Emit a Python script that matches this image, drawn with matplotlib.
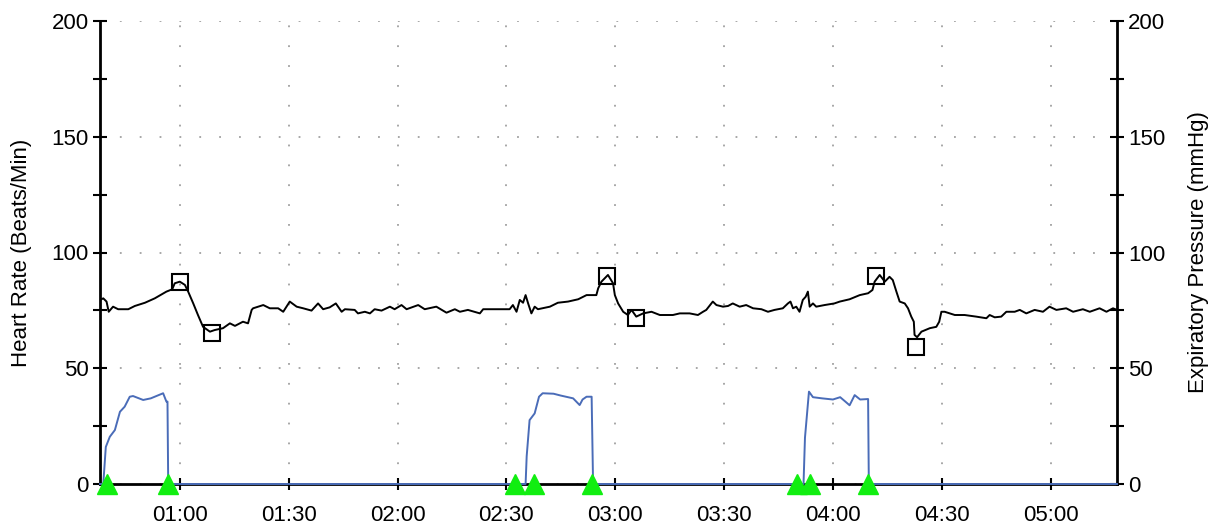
import matplotlib
matplotlib.use("Agg")
import matplotlib.pyplot as plt
from matplotlib.ticker import FixedLocator, FuncFormatter

plt.rcParams['font.family'] = ['Liberation Sans', 'DejaVu Sans']

# heart rate trace: (minutes since 00:00, beats/min)
hr_points = [
    (38.0, 79.5), (38.9, 80.2), (39.8, 78.8), (40.4, 74.4), (41.6, 76.6), (43.0, 75.5),
    (45.8, 75.5), (47.6, 76.9), (50.4, 78.3), (53.1, 80.2), (56.3, 83.1), (57.9, 84.1),
    (58.6, 86.7), (60.0, 87.4), (61.4, 86.0), (62.3, 83.1), (63.7, 78.0), (65.0, 73.0),
    (66.4, 67.9), (68.3, 65.8), (69.6, 66.5), (71.9, 67.3), (73.8, 69.4), (75.2, 68.3),
    (77.4, 70.1), (78.8, 69.4), (79.8, 75.2), (80.2, 75.9), (83.0, 77.3), (84.8, 75.9),
    (87.1, 75.9), (88.5, 74.4), (90.3, 78.8), (92.2, 76.6), (94.0, 75.9), (96.3, 74.9),
    (98.1, 78.0), (99.5, 75.5), (101.3, 76.3), (103.0, 78.0), (104.6, 74.4), (105.5, 75.5),
    (108.2, 75.2), (109.1, 73.7), (111.0, 74.4), (112.4, 73.7), (113.7, 75.5), (115.6, 74.9),
    (117.9, 76.6), (119.2, 75.5), (121.1, 77.3), (122.5, 75.5), (125.7, 77.3), (127.5, 75.5),
    (130.7, 76.6), (133.5, 74.0), (135.8, 75.5), (137.2, 74.4), (139.4, 75.2), (142.7, 73.7),
    (143.6, 75.5), (150.9, 75.5), (151.8, 77.3), (152.8, 74.4), (153.7, 79.5), (154.6, 78.3),
    (155.3, 81.6), (156.0, 78.0), (156.9, 73.7), (157.8, 76.6), (158.7, 75.5), (162.0, 76.6),
    (164.2, 78.3), (167.0, 78.8), (169.8, 79.8), (172.1, 81.6), (174.8, 81.6), (175.3, 84.5),
    (176.2, 87.4), (178.0, 90.3), (179.4, 86.7), (179.9, 81.6), (180.8, 78.0), (182.2, 74.4),
    (183.5, 73.0), (184.5, 75.2), (185.8, 72.3), (187.7, 73.7), (190.0, 74.4), (192.3, 73.0),
    (195.9, 73.0), (197.8, 73.7), (200.5, 73.7), (202.8, 73.0), (204.2, 74.4), (205.1, 75.2),
    (206.9, 78.8), (207.9, 77.3), (209.7, 76.6), (211.1, 76.9), (212.4, 78.0), (214.3, 76.6),
    (216.1, 77.3), (218.0, 75.9), (220.3, 75.5), (222.1, 74.4), (223.9, 75.2), (226.2, 75.9),
    (227.6, 78.0), (228.3, 78.8), (229.0, 75.9), (229.9, 76.6), (230.8, 74.4), (231.7, 79.5),
    (232.5, 80.9), (233.1, 83.1), (233.6, 76.6), (234.5, 78.0), (235.4, 76.6), (237.7, 77.3),
    (240.4, 78.0), (241.9, 78.8), (244.6, 79.8), (247.4, 81.6), (249.7, 82.4), (250.9, 83.8),
    (251.5, 87.4), (252.9, 90.3), (254.3, 87.4), (255.6, 89.5), (256.5, 88.1), (257.5, 83.1),
    (258.4, 78.8), (259.8, 78.0), (260.7, 75.9), (261.6, 72.3), (262.3, 70.1), (262.5, 64.4),
    (263.2, 63.4), (264.4, 65.8), (266.7, 67.3), (268.5, 67.9), (269.3, 70.1), (269.9, 74.4),
    (270.8, 74.4), (273.6, 73.0), (276.3, 73.0), (279.5, 72.3), (282.3, 71.6), (283.2, 73.0),
    (284.6, 72.0), (286.4, 72.3), (287.8, 74.4), (290.1, 74.4), (291.5, 75.2), (293.3, 73.7),
    (295.6, 75.2), (297.9, 74.4), (299.7, 76.6), (301.6, 75.2), (304.3, 75.9), (306.2, 74.4),
    (308.9, 75.5), (310.8, 74.4), (313.5, 75.9), (315.4, 74.4), (317.2, 75.9), (318.3, 75.2),
]

# expiratory pressure trace: (minutes, mmHg)
pressure_points = [
    (38.0, 0), (38.9, 0), (39.6, 16.0), (40.7, 20.4), (42.1, 23.3), (43.5, 31.2),
    (44.8, 33.4), (46.2, 37.7), (47.1, 38.0), (49.9, 36.3), (52.0, 37.0), (55.4, 39.2),
    (56.3, 35.6), (56.6, 35.6), (56.8, 0),
    (155.3, 0), (155.6, 12.0), (156.4, 27.6), (157.8, 30.5), (159.0, 37.7), (160.0, 39.2),
    (163.0, 39.0), (165.0, 38.2), (168.4, 37.0), (170.2, 34.1), (171.0, 36.5), (172.1, 37.7),
    (173.5, 37.7), (173.9, 0),
    (231.9, 0), (232.3, 20.0), (233.4, 39.9), (234.5, 37.5), (237.0, 37.0), (240.0, 36.5),
    (242.0, 37.5), (243.5, 35.5), (244.6, 34.0), (246.0, 38.4), (247.5, 36.5), (249.7, 36.7),
    (249.9, 0), (318.3, 0),
]

# square markers on heart rate
mark_min = [60.0, 68.8, 177.7, 185.7, 251.8, 262.8]
mark_bpm = [87.3, 65.2, 89.8, 71.7, 89.8, 59.2]

# green event triangles on the baseline
event_min = [39.9, 56.8, 152.4, 157.6, 173.6, 230.0, 233.6, 249.6]

time_ticks = [60, 90, 120, 150, 180, 210, 240, 270, 300]

hr_x = [p[0] for p in hr_points]
hr_y = [p[1] for p in hr_points]
pr_x = [p[0] for p in pressure_points]
pr_y = [p[1] for p in pressure_points]

fig = plt.figure(figsize=(12.12, 5.27), dpi=100)
ax = fig.add_axes([100 / 1212, 43 / 527, 1017 / 1212, 463 / 527])
ax2 = ax.twinx()

for a in (ax, ax2):
    a.set_xlim(38, 318.3)
    a.set_ylim(0, 200)
    a.spines['top'].set_visible(False)
    for s in a.spines.values():
        s.set_linewidth(2)
    a.yaxis.set_major_locator(FixedLocator([0, 50, 100, 150, 200]))
    a.yaxis.set_minor_locator(FixedLocator([25, 75, 125, 175]))
    a.tick_params(axis='y', which='both', direction='inout', length=10, width=1.5,
                  labelsize=16, pad=3)

ax.spines['right'].set_visible(False)
ax2.spines['left'].set_visible(False)
ax2.spines['bottom'].set_visible(False)

ax.xaxis.set_major_locator(FixedLocator(time_ticks))
ax.xaxis.set_major_formatter(FuncFormatter(lambda m, pos: f"{int(m) // 60:02d}:{int(m) % 60:02d}"))
ax.tick_params(axis='x', direction='inout', length=8, width=1.5, labelsize=16, pad=11)

ax.grid(True, which='major', color='#a0a0a0', linestyle=(0, (1, 10)), linewidth=1.3)
ax.set_axisbelow(True)

ax.plot(hr_x, hr_y, color='black', linewidth=1.4, zorder=3)
ax.plot(mark_min, mark_bpm, linestyle='none', marker='s', markersize=12,
        markerfacecolor='none', markeredgecolor='black', markeredgewidth=1.5, zorder=4)

ax2.plot(pr_x, pr_y, color='#4a6cb8', linewidth=1.4, zorder=3, clip_on=False)
ax2.plot(event_min, [0] * len(event_min), linestyle='none', marker='^', markersize=14,
         color='#11ee11', zorder=5, clip_on=False)

ax.set_ylabel("Heart Rate (Beats/Min)", fontsize=16, labelpad=14)
ax2.set_ylabel("Expiratory Pressure (mmHg)", fontsize=16, labelpad=16)

fig.savefig("out.png", dpi=100)
